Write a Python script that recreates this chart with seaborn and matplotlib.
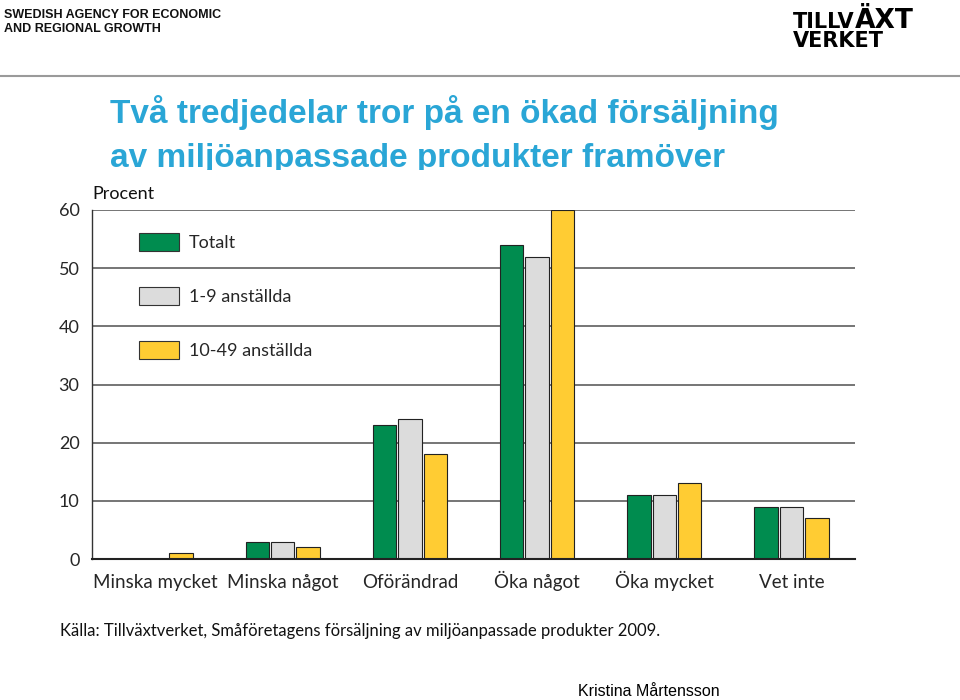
import matplotlib
matplotlib.use("Agg")
import matplotlib.pyplot as plt
from matplotlib.patches import Patch, Rectangle
from matplotlib.lines import Line2D
import seaborn as sns
import pandas as pd

categories = ["Minska mycket", "Minska något", "Oförändrad", "Öka något", "Öka mycket", "Vet inte"]
series = ["Totalt", "1-9 anställda", "10-49 anställda"]
totalt = [0, 3, 23, 54, 11, 9]
anst_1_9 = [0, 3, 24, 52, 11, 9]
anst_10_49 = [1, 2, 18, 60, 13, 7]
yticks = [0, 10, 20, 30, 40, 50, 60]
colors = ["#008C4F", "#DCDCDC", "#FFCC33"]

df = pd.DataFrame({
    "kategori": categories * 3,
    "grupp": [series[0]] * 6 + [series[1]] * 6 + [series[2]] * 6,
    "procent": totalt + anst_1_9 + anst_10_49,
})

sns.set_theme(style="white")
plt.rcParams["font.family"] = ["Lato", "DejaVu Sans"]

W, H = 960, 700
fig = plt.figure(figsize=(9.6, 7.0), dpi=100)
fig.patch.set_facecolor("white")

def fx(px):
    return px / W

def fy(py):
    return 1 - py / H

ax = fig.add_axes([fx(92), fy(559), fx(855) - fx(92), fy(210) - fy(559)])
ax.set_zorder(1)

sns.barplot(data=df, x="kategori", y="procent", hue="grupp", order=categories,
            hue_order=series, palette=colors, saturation=1, width=0.6, gap=0.08,
            edgecolor="#222222", linewidth=0.8, ax=ax, legend=False, errorbar=None)

ax.set_xlim(-0.5, 5.5)
ax.set_ylim(0, 60)
ax.set_yticks(yticks)
ax.set_yticklabels([str(v) for v in yticks], fontsize=13)
ax.tick_params(axis="y", length=0, pad=9)
ax.tick_params(axis="x", length=0, labelsize=13.5, pad=21)
for lab in ax.get_xticklabels():
    lab.set_verticalalignment("baseline")
ax.set_xlabel("")
ax.set_ylabel("")
for v in yticks[1:]:
    ax.axhline(v, color="#6a6a6a", lw=1.3, zorder=0)
ax.set_axisbelow(True)
for s in ["top", "right"]:
    ax.spines[s].set_visible(False)
ax.spines["left"].set_color("#333333")
ax.spines["left"].set_linewidth(1.0)
ax.spines["bottom"].set_color("#222222")
ax.spines["bottom"].set_linewidth(1.5)

handles = [Patch(facecolor=c, edgecolor="#333333", linewidth=0.8) for c in colors]
leg = ax.legend(handles, series, loc="upper left", bbox_to_anchor=(0.062, 0.935),
                frameon=False, fontsize=13, handlelength=2.2, handleheight=1.15,
                labelspacing=2.0, handletextpad=0.55, borderpad=0, borderaxespad=0)

# Procent label
fig.text(fx(92), fy(194), "Procent", fontsize=13, ha="left", va="center", color="#111111")

# Title (partially hidden behind chart area, as in the reference)
title_font = ["Liberation Sans", "DejaVu Sans"]
fig.text(fx(110), fy(112), "Två tredjedelar tror på en ökad försäljning",
         family=title_font, weight="bold",
         fontsize=24, color="#2AA6D6", ha="left", va="center", zorder=-3)
fig.text(fx(110), fy(159), "av miljöanpassade produkter framöver",
         family=title_font, weight="bold",
         fontsize=24, color="#2AA6D6", ha="left", va="center", zorder=-3)
fig.patches.append(Rectangle((0, 0), 1, fy(170), transform=fig.transFigure,
                             facecolor="white", edgecolor="none", zorder=-2))

# Header
fig.text(fx(4), fy(9), "SWEDISH AGENCY FOR ECONOMIC\nAND REGIONAL GROWTH",
         family=["Liberation Sans"], weight="bold",
         fontsize=9, color="#111111", ha="left", va="top", linespacing=1.25)
fig.lines.append(Line2D([0, 1], [fy(76), fy(76)], transform=fig.transFigure,
                        color="#9a9a9a", lw=1.5))

# Logo
t1 = fig.text(fx(793), fy(28), "TILLV", family=["DejaVu Sans"], weight="heavy",
              fontsize=15, color="black", ha="left", va="baseline")
renderer = fig.canvas.get_renderer()
bb = t1.get_window_extent(renderer)
fig.text(bb.x1 / W, fy(28), "ÄXT", family=["DejaVu Sans"], weight="heavy",
         fontsize=19, color="black", ha="left", va="baseline")
fig.text(fx(793), fy(47), "VERKET", family=["DejaVu Sans"], weight="heavy",
         fontsize=15, color="black", ha="left", va="baseline")

# Source
fig.text(fx(60), fy(631), "Källa: Tillväxtverket, Småföretagens försäljning av miljöanpassade produkter 2009.",
         fontsize=12, color="#111111", ha="left", va="center")

# Author
fig.text(fx(578), fy(691), "Kristina Mårtensson", family=["Liberation Sans"],
         fontsize=11.5, color="black", ha="left", va="center")

fig.savefig("out.png", dpi=100, facecolor="white")
